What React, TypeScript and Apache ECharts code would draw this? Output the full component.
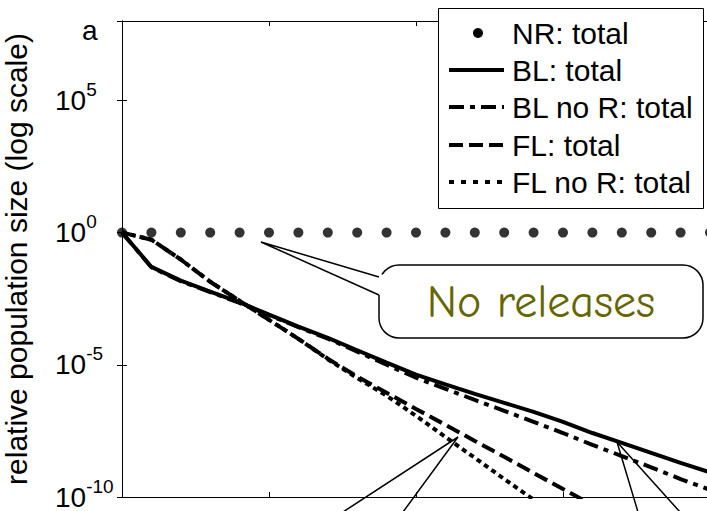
import { useEffect, useRef } from 'react';
import * as echarts from 'echarts';

// generations (x positions of the samples)
const xValues = [0, 1, 2, 3, 4, 5, 6, 7, 8, 9, 10, 11, 12, 13, 14, 15, 16, 17, 18, 19, 20];

// log10 of relative population size
const nrTotalLog10 = [0, 0, 0, 0, 0, 0, 0, 0, 0, 0, 0, 0, 0, 0, 0, 0, 0, 0, 0, 0, 0];
const blTotalLog10 = [0, -1.3, -1.82, -2.23, -2.64, -3.1, -3.56, -3.98, -4.45, -4.92, -5.37, -5.74, -6.1, -6.44, -6.78, -7.16, -7.58, -7.95, -8.33, -8.71, -9.07];
const blNoRTotalLog10 = [0, -1.31, -1.84, -2.25, -2.66, -3.12, -3.58, -4.01, -4.5, -5.0, -5.49, -5.91, -6.33, -6.74, -7.16, -7.58, -8.03, -8.45, -8.88, -9.32, -9.73];
const flTotalLog10 = [0, -0.27, -1.02, -1.86, -2.58, -3.3, -4.02, -4.77, -5.45, -6.06, -6.67, -7.27, -7.88, -8.48, -9.09, -9.7, -10.3];
const flNoRTotalLog10 = [0, -0.27, -1.02, -1.86, -2.58, -3.3, -4.02, -4.79, -5.5, -6.17, -6.93, -7.73, -8.52, -9.32, -10.1];

const seriesNames = ['NR: total', 'BL: total', 'BL no R: total', 'FL: total', 'FL no R: total'];
const yAxisTitle = 'relative population size (log scale)';
const panelLabel = 'a';
const calloutText = 'No releases';

const FONT = '"Liberation Sans", Arial, Helvetica, sans-serif';

const toData = (arr: number[]) => arr.map((e, i) => [xValues[i], Math.pow(10, e)]);

const dashDot = [15, 6, 5, 6];
const dashed = [14, 6];
const dotted = [5, 4];

export default function App() {
  const ref = useRef<HTMLDivElement>(null);

  useEffect(() => {
    if (!ref.current) return;
    const chart = echarts.init(ref.current, null, { renderer: 'svg' });

    const logAxisCommon = {
      type: 'log' as const,
      logBase: 100000,
      min: 1e-10,
      max: 1e8,
      splitLine: { show: false },
      axisLine: { lineStyle: { color: '#000', width: 1 } },
      axisTick: { inside: true, length: 5, lineStyle: { color: '#000', width: 1 } },
    };
    const xAxisCommon = {
      type: 'value' as const,
      min: 0,
      max: 20,
      interval: 5,
      splitLine: { show: false },
      axisLabel: { show: false },
      axisLine: { onZero: false, lineStyle: { color: '#000', width: 1 } },
      axisTick: { inside: true, length: 5, lineStyle: { color: '#000', width: 1 } },
    };

    const legendRowsY = [33, 70, 107, 145, 182];
    const legendDashes: (number[] | null)[] = [null, null, dashDot, dashed, [5, 7]];
    const legendGraphics: any[] = [
      {
        type: 'rect',
        shape: { x: 438.5, y: 8.5, width: 265, height: 200 },
        style: { fill: '#fff', stroke: '#000', lineWidth: 1 },
        z: 100,
      },
    ];
    seriesNames.forEach((name, i) => {
      const y = legendRowsY[i];
      if (i === 0) {
        legendGraphics.push({
          type: 'circle',
          shape: { cx: 478, cy: y, r: 5 },
          style: { fill: '#000' },
          z: 101,
        });
      } else {
        legendGraphics.push({
          type: 'line',
          shape: { x1: 449, y1: y, x2: 504, y2: y },
          style: { stroke: '#000', lineWidth: 4, lineDash: legendDashes[i] || undefined },
          z: 101,
        });
      }
      legendGraphics.push({
        type: 'text',
        x: 512,
        y: y,
        style: { text: name, fontSize: 30, fontFamily: FONT, fill: '#000', verticalAlign: 'middle', align: 'left' },
        z: 101,
      });
    });

    const option: any = {
      animation: false,
      backgroundColor: '#fff',
      grid: { left: 122, top: 21, right: -3, bottom: 14, containLabel: false, outerBoundsMode: 'none' },
      xAxis: [
        { ...xAxisCommon, position: 'bottom' },
        { ...xAxisCommon, position: 'top' },
      ],
      yAxis: [
        {
          ...logAxisCommon,
          position: 'left',
          name: yAxisTitle,
          nameLocation: 'middle',
          nameGap: 91,
          nameTextStyle: { fontSize: 30, fontFamily: FONT, color: '#000' },
          axisLabel: {
            show: true,
            showMaxLabel: false,
            margin: 67,
            align: 'left',
            fontSize: 28,
            fontFamily: FONT,
            color: '#000',
            formatter: (v: number) => {
              const e = Math.round(Math.log10(v));
              return '10{sup|' + e + '}';
            },
            rich: {
              sup: { fontSize: 19, fontFamily: FONT, color: '#000', padding: [0, 0, 22, 0] },
            },
          },
        },
        {
          ...logAxisCommon,
          position: 'right',
          axisLabel: { show: false },
        },
      ],
      series: [
        {
          name: seriesNames[0],
          type: 'scatter',
          data: toData(nrTotalLog10),
          symbol: 'circle',
          symbolSize: 10,
          itemStyle: { color: '#000' },
          z: 5,
        },
        {
          name: seriesNames[1],
          type: 'line',
          data: toData(blTotalLog10),
          showSymbol: false,
          symbol: 'none',
          lineStyle: { color: '#000', width: 4, type: 'solid' },
          z: 4,
        },
        {
          name: seriesNames[2],
          type: 'line',
          data: toData(blNoRTotalLog10),
          showSymbol: false,
          symbol: 'none',
          lineStyle: { color: '#000', width: 4, type: dashDot },
          z: 3,
        },
        {
          name: seriesNames[3],
          type: 'line',
          data: toData(flTotalLog10),
          showSymbol: false,
          symbol: 'none',
          lineStyle: { color: '#000', width: 4, type: dashed },
          z: 3,
        },
        {
          name: seriesNames[4],
          type: 'line',
          data: toData(flNoRTotalLog10),
          showSymbol: false,
          symbol: 'none',
          lineStyle: { color: '#000', width: 4, type: dotted },
          z: 3,
        },
      ],
      graphic: [
        {
          type: 'text',
          x: 82,
          y: 30,
          style: { text: panelLabel, fontSize: 28, fontFamily: FONT, fill: '#000', verticalAlign: 'middle', align: 'left' },
          z: 100,
        },
        // callout box
        {
          type: 'rect',
          shape: { x: 379, y: 265, width: 324, height: 73, r: 20 },
          style: { fill: '#fff', stroke: '#000', lineWidth: 1.5 },
          z: 100,
        },
        {
          type: 'polygon',
          shape: { points: [[384, 275], [261, 242], [384, 297]] },
          style: { fill: '#fff' },
          z: 101,
        },
        {
          type: 'polyline',
          shape: { points: [[379, 277], [261, 242], [379, 295]] },
          style: { stroke: '#000', lineWidth: 1.5, fill: null },
          z: 102,
        },
        {
          type: 'text',
          x: 541,
          y: 302,
          style: {
            text: calloutText,
            fontSize: 46,
            fontFamily: '"Comic Sans MS", "Comic Neue", "DejaVu Sans", sans-serif',
            fill: '#666600',
            align: 'center',
            verticalAlign: 'middle',
          },
          z: 103,
        },
        // bottom pointers
        {
          type: 'polyline',
          shape: { points: [[343, 512], [458, 437], [403, 512]] },
          style: { stroke: '#000', lineWidth: 1.5, fill: null },
          z: 100,
        },
        {
          type: 'polyline',
          shape: { points: [[638, 512], [617, 442], [680, 512]] },
          style: { stroke: '#000', lineWidth: 1.5, fill: null },
          z: 100,
        },
        ...legendGraphics,
      ],
    };

    chart.setOption(option);
    return () => chart.dispose();
  }, []);

  return (
    <div
      ref={ref}
      style={{ position: 'fixed', left: 0, top: 0, width: 707, height: 511, background: '#fff' }}
    />
  );
}
